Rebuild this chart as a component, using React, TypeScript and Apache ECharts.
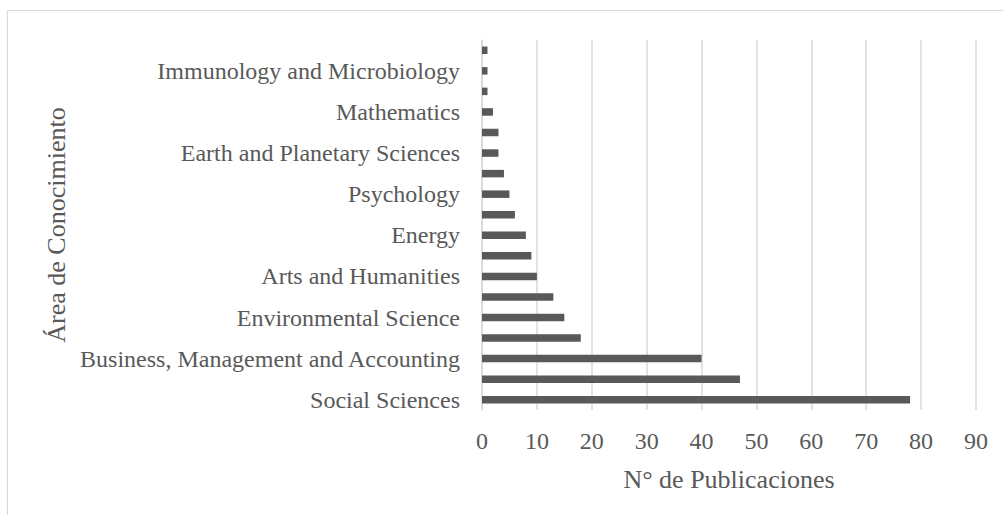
import React, { useEffect, useRef } from "react";
import * as echarts from "echarts";

const categories = [
  "Social Sciences",
  "Economics, Econometrics and Finance",
  "Business, Management and Accounting",
  "Engineering",
  "Environmental Science",
  "Computer Science",
  "Arts and Humanities",
  "Decision Sciences",
  "Energy",
  "Medicine",
  "Psychology",
  "Agricultural and Biological Sciences",
  "Earth and Planetary Sciences",
  "Multidisciplinary",
  "Mathematics",
  "Health Professions",
  "Immunology and Microbiology",
  "Nursing",
];

const publicaciones = [78, 47, 40, 18, 15, 13, 10, 9, 8, 6, 5, 4, 3, 3, 2, 1, 1, 1];

const xTitle = "N° de Publicaciones";
const yTitle = "Área de Conocimiento";

const FONT = "'Liberation Serif', 'Times New Roman', serif";
const TEXT = "#595959";
const GRID = "#d9d9d9";

export default function App() {
  const ref = useRef<HTMLDivElement>(null);

  useEffect(() => {
    if (!ref.current) return;
    const chart = echarts.init(ref.current, undefined, { renderer: "svg" });
    chart.setOption({
      animation: false,
      backgroundColor: "#ffffff",
      grid: { left: 482, right: 27, top: 40, bottom: 105, containLabel: false },
      graphic: [
        {
          type: "rect",
          shape: { x: 7.5, y: 10.5, width: 1100, height: 600 },
          style: { fill: "none", stroke: GRID, lineWidth: 1.2 },
          silent: true,
        },
      ],
      xAxis: {
        type: "value",
        min: 0,
        max: 90,
        interval: 10,
        name: xTitle,
        nameLocation: "middle",
        nameGap: 56,
        nameTextStyle: { fontFamily: FONT, fontSize: 26, color: TEXT },
        axisLine: { show: false },
        axisTick: { show: false },
        axisLabel: { fontFamily: FONT, fontSize: 24, color: TEXT, margin: 19 },
        splitLine: { show: true, lineStyle: { color: GRID, width: 1.5 } },
      },
      yAxis: {
        type: "category",
        data: categories,
        name: yTitle,
        nameLocation: "middle",
        nameGap: 413,
        nameRotate: 90,
        nameTextStyle: { fontFamily: FONT, fontSize: 26, color: TEXT },
        axisLine: { show: true, lineStyle: { color: GRID, width: 1.5 } },
        axisTick: { show: false },
        axisLabel: {
          interval: 1,
          fontFamily: FONT,
          fontSize: 24,
          color: TEXT,
          margin: 22,
        },
        splitLine: { show: false },
      },
      series: [
        {
          type: "bar",
          data: publicaciones,
          barWidth: 7.5,
          itemStyle: { color: "#595959" },
        },
      ],
    });
    return () => chart.dispose();
  }, []);

  return (
    <div
      ref={ref}
      style={{ position: "absolute", left: 0, top: 0, width: 1003, height: 515 }}
    />
  );
}
